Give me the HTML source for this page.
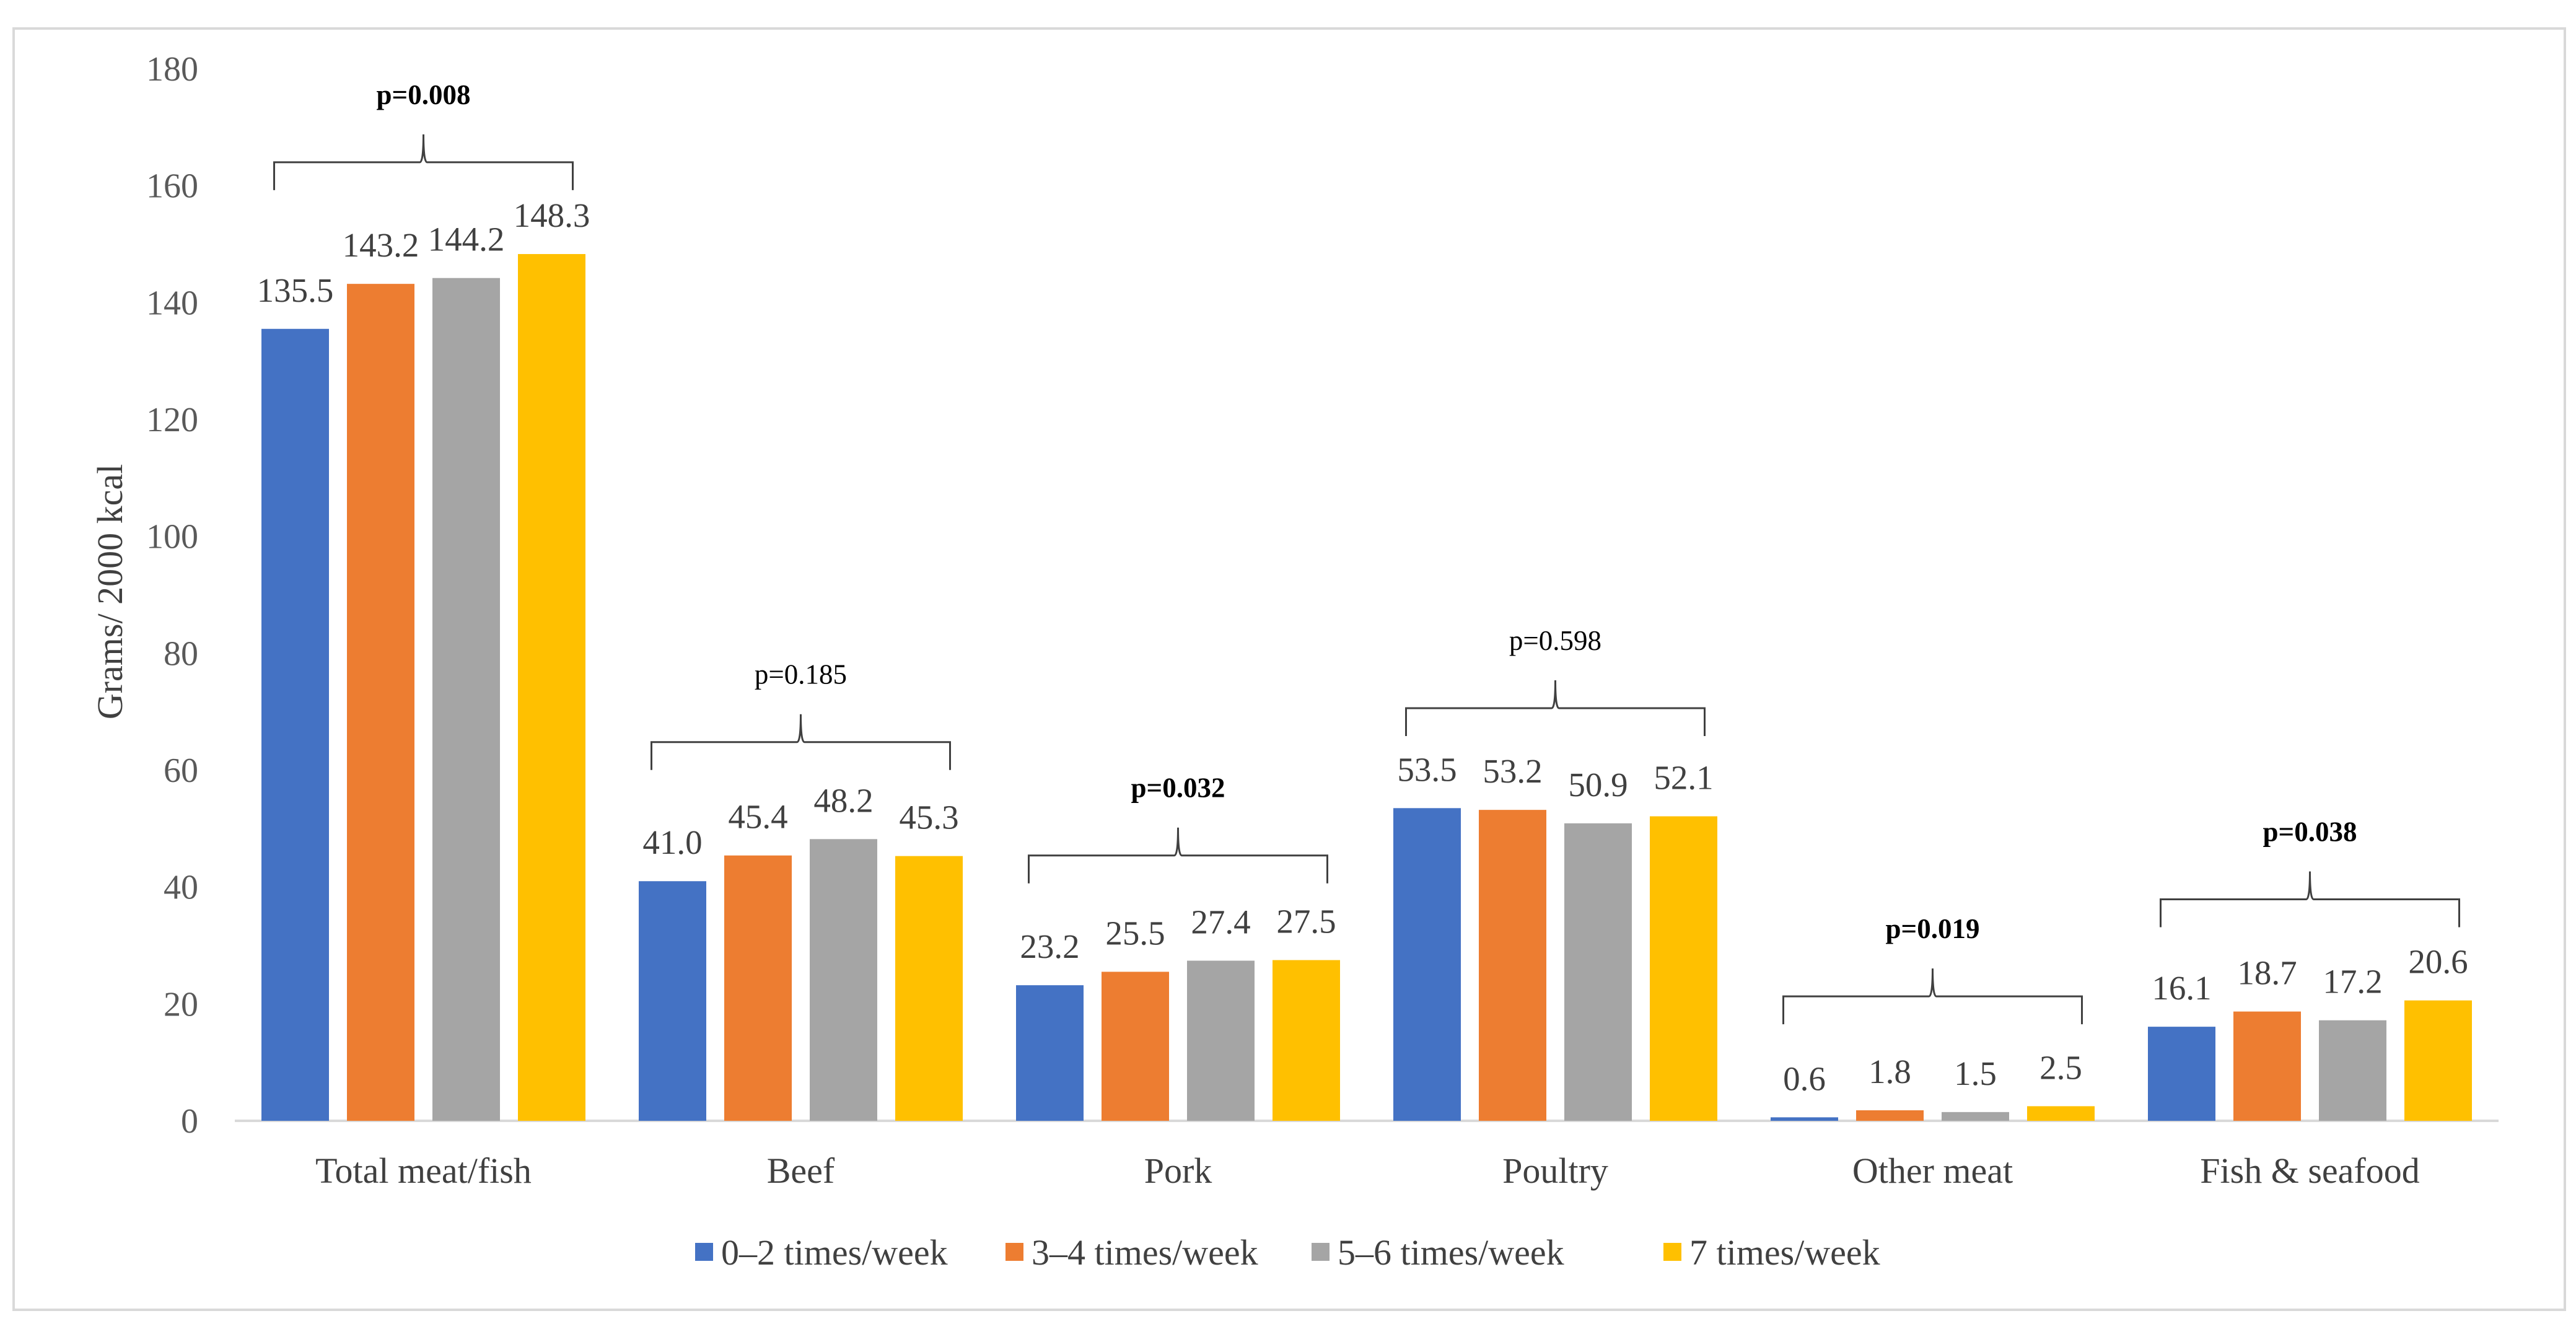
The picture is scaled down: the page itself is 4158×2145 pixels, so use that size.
<!DOCTYPE html>
<html><head><meta charset="utf-8"><style>
html,body{margin:0;padding:0;background:#fff;}
svg{display:block;font-family:"Liberation Serif",serif;}
</style></head><body>
<svg id="chart" width="4158" height="2145" viewBox="0 0 4158 2145">
<rect x="22" y="46" width="4118" height="2068" fill="#fff" stroke="#d9d9d9" stroke-width="4"/>
<g id="grid"></g>
<g id="bars"></g>
<g id="labels"></g>
<g id="brackets"></g>
<text x="0" y="0" transform="translate(197,955) rotate(-90)" text-anchor="middle" font-size="58" fill="#404040">Grams/ 2000 kcal</text>
<g id="legend"></g>
</svg>
<script>
const categories = ["Total meat/fish","Beef","Pork","Poultry","Other meat","Fish & seafood"];
const seriesNames = ["0–2 times/week","3–4 times/week","5–6 times/week","7 times/week"];
const s1 = [135.5,41.0,23.2,53.5,0.6,16.1];
const s2 = [143.2,45.4,25.5,53.2,1.8,18.7];
const s3 = [144.2,48.2,27.4,50.9,1.5,17.2];
const s4 = [148.3,45.3,27.5,52.1,2.5,20.6];
const pValues = ["p=0.008","p=0.185","p=0.032","p=0.598","p=0.019","p=0.038"];
const pBold = [true,false,true,false,true,true];
const pBracket = [164.0,64.8,45.4,70.6,21.3,37.9];
const yTicks = [0,20,40,60,80,100,120,140,160,180];

const NS="http://www.w3.org/2000/svg";
const colors=["#4472C4","#ED7D31","#A5A5A5","#FFC000"];
const series=[s1,s2,s3,s4];
const X0=379,X1=4033,Y0=1809,Ytop=111,VMAX=180;
const yS=v=>Y0-v*(Y0-Ytop)/VMAX;
const band=(X1-X0)/categories.length;
const xC=i=>X0+band*(i+0.5);
const BW=109,STEP=138;
function mk(tag,attrs,parent,text){const e=document.createElementNS(NS,tag);for(const k in attrs)e.setAttribute(k,attrs[k]);if(text!==undefined)e.textContent=text;parent.appendChild(e);return e;}
const grid=document.getElementById('grid'),bars=document.getElementById('bars'),labels=document.getElementById('labels'),br=document.getElementById('brackets'),lg=document.getElementById('legend');
yTicks.forEach(t=>{
  const e=mk('text',{x:320,y:yS(t)+19,'text-anchor':'end','font-size':56,fill:'#595959'},labels,String(t));
  
  
});
const ax=mk('line',{x1:X0,x2:X1,y1:Y0,y2:Y0,stroke:'#d9d9d9','stroke-width':4},grid);


categories.forEach((c,i)=>{
  series.forEach((s,j)=>{
    const cx=xC(i)+(j-1.5)*STEP;
    const r=mk('rect',{x:cx-BW/2,y:yS(s[i]),width:BW,height:Y0-yS(s[i]),fill:colors[j]},bars);
    
    
    const t=mk('text',{x:cx,y:yS(s[i])-44,'text-anchor':'middle','font-size':55,fill:'#404040'},labels,s[i].toFixed(1));
    
    
  });
  const cl=mk('text',{x:xC(i),y:1909,'text-anchor':'middle','font-size':58,fill:'#404040'},labels,c);
  
  
  const by=yS(pBracket[i]),cx=xC(i),hw=241,h=45;
  const p=mk('path',{d:`M${cx-hw},${by+h} L${cx-hw},${by} L${cx-6},${by} Q${cx},${by} ${cx},${by-h} Q${cx},${by} ${cx+6},${by} L${cx+hw},${by} L${cx+hw},${by+h}`,fill:'none',stroke:'#404040','stroke-width':3},br);
  
  
  const pt=mk('text',{x:cx,y:by-94,'text-anchor':'middle','font-size':45,'font-weight':pBold[i]?'bold':'normal',fill:'#000'},br,pValues[i]);
  
  
});
const lx=[1122,1623,2117,2685];
seriesNames.forEach((n,j)=>{
  const g=mk('g',{},lg);
  
  
  mk('rect',{x:lx[j],y:2006,width:29,height:29,fill:colors[j]},g);
  mk('text',{x:lx[j]+42,y:2041,'font-size':58,fill:'#404040'},g,n);
});
</script>
</body></html>
